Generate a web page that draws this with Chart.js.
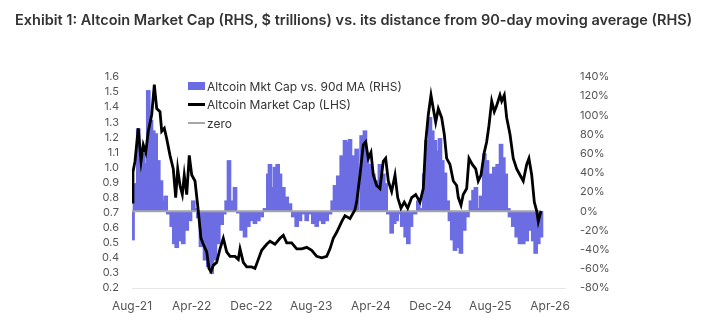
<!DOCTYPE html>
<html>
<head>
<meta charset="utf-8">
<script src="https://cdn.jsdelivr.net/npm/chart.js@4.4.1/dist/chart.umd.min.js"></script>
<style>
  body { margin: 0; background: #fff; }
  #wrap { position: relative; width: 702px; height: 333px; }
  #title { position: absolute; left: 15px; top: 11px; font: 600 14.5px Inter, sans-serif; color: #333; white-space: nowrap; line-height: 18px; }
  #legend { position: absolute; left: 188px; top: 77px; font: 12px Inter, sans-serif; color: #333; }
  .row { height: 18.5px; display: flex; align-items: center; }
  .sw { width: 17px; margin-right: 2px; }
  canvas { position: absolute; left: 0; top: 0; }
</style>
</head>
<body>
<div id="wrap">
  <canvas id="myChart" width="702" height="333"></canvas>
  <div id="title">Exhibit 1: Altcoin Market Cap (RHS, $ trillions) vs. its distance from 90-day moving average (RHS)</div>
  <div id="legend">
    <div class="row"><span class="sw" style="height:8px;background:#6b6be3"></span>Altcoin Mkt Cap vs. 90d MA (RHS)</div>
    <div class="row"><span class="sw" style="height:3px;background:#000"></span>Altcoin Market Cap (LHS)</div>
    <div class="row"><span class="sw" style="height:2px;background:#a6a6a6"></span>zero</div>
  </div>
</div>
<script>
// x = months since Aug-21
// Altcoin market cap, $ trillions (LHS)
const capMonths = [
  0, 0.13, 0.40, 0.84, 1.21, 1.51, 1.84, 2.18, 2.64, 2.99,
  3.31, 3.75, 3.98, 4.33, 4.65, 5.09, 5.53, 5.85, 6.12, 6.43,
  6.74, 7.00, 7.33, 7.67, 8.00, 8.44, 8.88, 9.24, 9.55, 10.01,
  10.31, 10.58, 10.89, 11.34, 11.79, 12.23, 12.68, 13.13, 13.80, 14.24,
  14.47, 14.91, 15.36, 16.03, 16.47, 16.92, 17.37, 18.04, 18.48, 19.15,
  19.82, 20.27, 20.72, 21.39, 22.06, 22.73, 23.40, 24.07, 24.74, 25.41,
  26.08, 26.52, 26.96, 27.42, 28.09, 28.53, 29.20, 29.87, 30.09, 30.54,
  30.98, 31.30, 31.65, 32.01, 32.32, 32.77, 33.21, 33.66, 33.98, 34.33,
  34.78, 35.23, 35.59, 36.03, 36.47, 36.93, 37.46, 38.00, 38.57, 39.02,
  39.34, 39.69, 40.05, 40.36, 40.68, 41.03, 41.48, 41.83, 42.15, 42.59,
  43.04, 43.49, 43.71, 44.07, 44.37, 44.83, 45.14, 45.58, 46.04, 46.38,
  46.75, 47.19, 47.51, 47.82, 48.18, 48.53, 48.85, 49.29, 49.52, 49.87,
  50.19, 50.63, 51.07, 51.53, 51.97, 52.41, 52.87, 53.17, 53.54, 53.89,
  54.21, 54.42, 54.78
];
const mktCap = [
  0.77, 0.97, 1.04, 1.26, 1.04, 1.15, 1.10, 1.24, 1.35, 1.55,
  1.39, 1.37, 1.24, 1.26, 1.19, 1.08, 0.99, 0.80, 0.99, 0.88,
  0.82, 0.95, 0.82, 1.08, 0.95, 0.91, 0.71, 0.53, 0.49, 0.44,
  0.33, 0.31, 0.35, 0.37, 0.46, 0.53, 0.44, 0.41, 0.41, 0.39,
  0.46, 0.37, 0.34, 0.34, 0.33, 0.39, 0.45, 0.49, 0.51, 0.49,
  0.53, 0.55, 0.50, 0.50, 0.46, 0.46, 0.47, 0.45, 0.41, 0.40,
  0.41, 0.46, 0.53, 0.57, 0.64, 0.68, 0.66, 0.72, 0.77, 0.95,
  1.15, 1.17, 1.06, 1.10, 0.95, 0.88, 0.86, 1.04, 1.06, 0.91,
  0.84, 0.95, 0.80, 0.73, 0.77, 0.73, 0.80, 0.82, 0.77, 0.86,
  1.17, 1.35, 1.48, 1.39, 1.30, 1.39, 1.33, 1.22, 1.06, 1.02,
  0.91, 0.88, 0.80, 0.75, 0.82, 0.86, 1.06, 1.02, 0.99, 0.91,
  0.95, 1.10, 1.17, 1.28, 1.44, 1.37, 1.41, 1.48, 1.44, 1.48,
  1.33, 1.22, 1.06, 0.99, 0.95, 0.91, 1.02, 1.06, 0.95, 0.77,
  0.71, 0.64, 0.71
];

// distance from 90d moving average, % (RHS)
const distMonths = [
  0.07, 0.40, 0.84, 1.21, 1.51, 1.84, 2.18, 2.54, 2.85, 3.17,
  3.52, 3.88, 4.19, 4.51, 4.86, 5.32, 5.67, 5.99, 6.43, 6.87,
  7.33, 7.77, 8.21, 8.53, 8.88, 9.24, 9.78, 10.22, 10.67, 11.11,
  11.56, 12.01, 12.36, 12.68, 12.99, 13.35, 13.80, 14.24, 14.69, 15.14,
  15.58, 16.03, 16.47, 16.92, 17.37, 17.81, 18.26, 18.48, 18.79, 19.15,
  19.51, 19.82, 20.27, 20.72, 21.16, 21.60, 22.06, 22.50, 22.94, 23.40,
  23.84, 24.29, 24.74, 25.18, 25.62, 26.08, 26.52, 26.88, 27.19, 27.63,
  28.09, 28.53, 28.76, 29.20, 29.64, 30.09, 30.76, 31.20, 31.47, 31.87,
  32.32, 32.77, 33.21, 33.66, 33.98, 34.33, 34.78, 35.13, 35.45, 35.90,
  36.20, 36.66, 37.01, 37.37, 37.91, 38.35, 38.71, 39.15, 39.47, 39.91,
  40.22, 40.58, 40.94, 41.25, 41.56, 41.92, 42.28, 42.59, 42.90, 43.26,
  43.61, 44.06, 44.50, 44.94, 45.40, 45.75, 46.07, 46.38, 46.75, 47.19,
  47.55, 48.09, 48.53, 48.98, 49.43, 49.74, 50.06, 50.41, 50.63, 51.07,
  51.53, 51.97, 52.41, 52.87, 53.31, 53.75, 54.07, 54.42, 54.78
];
const distPct = [
  -30, 29, 86, 39, 60, 50, 126, 95, 84, 81,
  53, 32, 11, 16, -3, -16, -34, -38, -31, -34,
  -20, -10, 11, 3, -7, -37, -51, -58, -65, -51,
  -34, -14, -3, 11, 53, 11, 25, -2, -20, -27,
  -16, -10, -13, -10, -6, 3, 39, 49, 25, 46,
  49, 39, 25, 15, 8, -6, -16, -10, -3, -10,
  -3, -13, -16, -10, -13, -10, -3, 11, 27, 37,
  58, 74, 72, 75, 58, 65, 79, 84, 60, 49,
  39, 32, 49, 39, 29, -3, -23, -13, -10, -3,
  -16, -27, -34, -16, -3, 11, 3, 39, 74, 98,
  84, 74, 63, 76, 53, 40, 11, -10, -30, -41,
  -38, -44, -20, -6, 11, 22, 25, 3, 16, 60,
  53, 39, 46, 49, 70, 56, 39, 3, -6, -16,
  -27, -34, -34, -31, -20, -31, -44, -34, -27
];

const xLabels = ["Aug-21", "Apr-22", "Dec-22", "Aug-23", "Apr-24", "Dec-24", "Aug-25", "Apr-26"];

const tickFont = { family: "Inter", size: 11, lineHeight: 1 };

function grafico() {
  const ctx = document.getElementById("myChart");
  new Chart(ctx, {
    type: "bar",
    data: {
      datasets: [
        {
          type: "line",
          label: "Altcoin Market Cap (LHS)",
          data: capMonths.map((m, i) => ({ x: m, y: mktCap[i] })),
          yAxisID: "y",
          borderColor: "#000",
          borderWidth: 2.8,
          pointRadius: 0,
          tension: 0,
          order: 0,
        },
        {
          type: "line",
          label: "zero",
          data: [
            { x: 0, y: 0 },
            { x: distMonths[distMonths.length - 1], y: 0 },
          ],
          yAxisID: "y1",
          borderColor: "#a6a6a6",
          borderWidth: 2,
          pointRadius: 0,
          order: 1,
        },
        {
          type: "bar",
          label: "Altcoin Mkt Cap vs. 90d MA (RHS)",
          data: distMonths.map((m, i) => ({ x: m, y: distPct[i] })),
          yAxisID: "y1",
          backgroundColor: "#6d6de3",
          barThickness: 4,
          order: 2,
        },
      ],
    },
    options: {
      responsive: false,
      animation: false,
      layout: { padding: { top: 77, right: 57, bottom: 0, left: 0 } },
      plugins: { legend: { display: false }, tooltip: { enabled: false } },
      scales: {
        x: {
          type: "linear",
          min: 0,
          max: 58,
          offset: false,
          grid: { display: false, drawTicks: false },
          border: { display: true, color: "#e6e6e6", width: 1 },
          ticks: {
            stepSize: 8,
            includeBounds: false,
            autoSkip: false,
            maxRotation: 0,
            padding: 11,
            color: "#555",
            font: { family: "Inter", size: 12 },
            callback: (v) => xLabels[v / 8],
          },
          afterFit: (s) => { s.height = 45; },
        },
        y: {
          position: "left",
          min: 0.2,
          max: 1.6,
          grid: { display: false, drawTicks: false },
          border: { display: false },
          ticks: {
            stepSize: 0.1,
            maxTicksLimit: 30,
            padding: 13,
            color: "#555",
            font: tickFont,
            callback: (v) => v.toFixed(1),
          },
          afterFit: (s) => { s.width = 132; },
        },
        y1: {
          position: "right",
          min: -80,
          max: 140,
          grid: { display: false, drawTicks: false },
          border: { display: false },
          ticks: {
            stepSize: 20,
            maxTicksLimit: 30,
            padding: 15,
            color: "#555",
            font: tickFont,
            callback: (v) => v + "%",
          },
          afterFit: (s) => { s.width = 80; },
        },
      },
    },
  });
}

grafico();
</script>
</body>
</html>
